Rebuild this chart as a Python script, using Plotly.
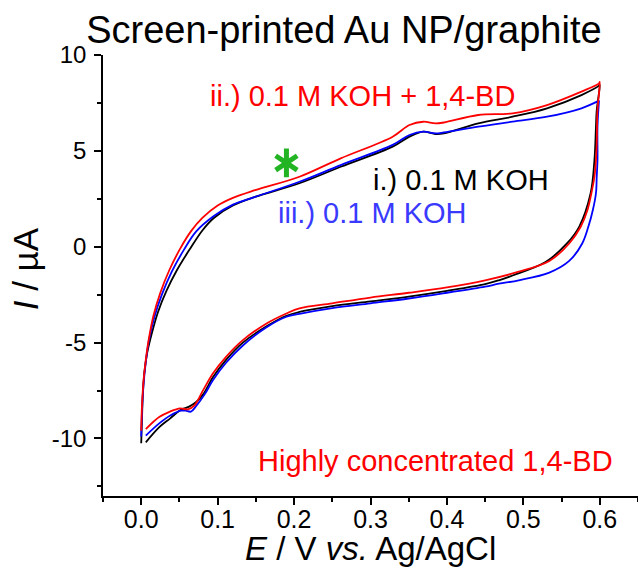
import plotly.graph_objects as go

# ---- data ----
# i.) 0.1 M KOH (black): anodic branch then cathodic branch
E_i = [0.000, 0.001, 0.002, 0.004, 0.008, 0.014, 0.022, 0.033, 0.047, 0.064, 0.080, 0.095, 0.120,
       0.149, 0.207, 0.261, 0.329, 0.351, 0.369, 0.385, 0.396, 0.441, 0.486, 0.531, 0.576, 0.599,
       0.600, 0.596, 0.595, 0.593, 0.588, 0.573, 0.557, 0.529, 0.486, 0.468,
       0.450, 0.400, 0.350, 0.300, 0.250, 0.207, 0.190, 0.164, 0.133, 0.111, 0.094, 0.081,
       0.072, 0.062, 0.052, 0.038, 0.024, 0.006]
I_i = [-10.25, -9.0, -7.8, -6.6, -5.5, -4.5, -3.4, -2.3, -1.2, -0.1, 0.85, 1.50, 2.15,
       2.60, 3.31, 4.17, 5.22, 5.74, 6.00, 5.88, 5.91, 6.43, 6.78, 7.22, 7.91, 8.40,
       8.45, 7.13, 6.26, 4.52, 2.79, 1.04, 0.17, -0.80, -1.50, -1.75,
       -1.95, -2.30, -2.60, -2.85, -3.10, -3.40, -3.60, -4.15, -5.00, -5.90, -6.80, -7.70,
       -8.10, -8.35, -8.50, -8.95, -9.40, -10.20]

# ii.) 0.1 M KOH + 1,4-BD (red)
E_ii = [0.000, 0.001, 0.003, 0.006, 0.010, 0.016, 0.025, 0.037, 0.051, 0.065, 0.080, 0.100, 0.120,
        0.149, 0.207, 0.261, 0.329, 0.351, 0.369, 0.385, 0.396, 0.441, 0.486, 0.531, 0.576, 0.599,
        0.600, 0.597, 0.596, 0.595, 0.593, 0.589, 0.584, 0.575, 0.560, 0.534, 0.494, 0.450,
        0.400, 0.350, 0.300, 0.250, 0.207, 0.190, 0.164, 0.133, 0.111, 0.094, 0.081,
        0.070, 0.061, 0.051, 0.037, 0.024, 0.006]
I_ii = [-9.60, -8.3, -7.0, -5.9, -4.8, -3.6, -2.4, -1.2, -0.1, 0.8, 1.5, 2.15, 2.55,
        2.95, 3.65, 4.61, 5.74, 6.35, 6.52, 6.43, 6.48, 6.87, 6.96, 7.39, 8.09, 8.52,
        8.60, 7.13, 5.39, 4.52, 3.65, 2.79, 1.93, 1.04, 0.17, -0.74, -1.30, -1.75,
        -2.12, -2.40, -2.65, -2.95, -3.21, -3.48, -4.00, -4.87, -5.74, -6.60, -7.48,
        -8.26, -8.48, -8.43, -8.61, -8.87, -9.51]

# iii.) 0.1 M KOH (blue)
E_iii = [0.000, 0.001, 0.003, 0.006, 0.010, 0.017, 0.027, 0.040, 0.056, 0.072, 0.095, 0.120,
         0.149, 0.207, 0.261, 0.329, 0.351, 0.369, 0.385, 0.396, 0.441, 0.486, 0.531, 0.576, 0.599,
         0.599, 0.597, 0.597, 0.596, 0.595, 0.591, 0.585, 0.577, 0.560, 0.534, 0.494, 0.468,
         0.450, 0.400, 0.350, 0.300, 0.250, 0.207, 0.190, 0.164, 0.133, 0.111, 0.094, 0.083,
         0.072, 0.065, 0.058, 0.052, 0.038, 0.024, 0.006]
I_iii = [-9.90, -8.6, -7.2, -6.0, -4.9, -3.7, -2.5, -1.3, -0.15, 0.8, 1.6, 2.2,
         2.60, 3.39, 4.26, 5.31, 5.83, 6.00, 5.91, 5.96, 6.26, 6.52, 6.78, 7.22, 7.62,
         7.62, 6.26, 4.52, 3.65, 2.79, 1.93, 1.04, 0.17, -0.74, -1.35, -1.75, -1.93,
         -2.08, -2.40, -2.70, -2.95, -3.20, -3.50, -3.65, -4.20, -5.15, -6.05, -6.95, -7.70,
         -8.30, -8.60, -8.55, -8.55, -8.80, -9.20, -9.85]

# green asterisk mark position
star_E = [0.190]
star_I = [4.37]

x_ticks = [0.0, 0.1, 0.2, 0.3, 0.4, 0.5, 0.6]
x_labels = ["0.0", "0.1", "0.2", "0.3", "0.4", "0.5", "0.6"]
y_ticks = [-10, -5, 0, 5, 10]
y_labels = ["-10", "-5", "0", "5", "10"]

FONT = "Liberation Sans, Arial, sans-serif"
GREEN = "#22B422"

fig = go.Figure()
fig.add_trace(go.Scatter(x=E_i, y=I_i, mode="lines", line=dict(color="#000000", width=1.8),
                         name="i.) 0.1 M KOH", line_shape="spline"))
fig.add_trace(go.Scatter(x=E_iii, y=I_iii, mode="lines", line=dict(color="#0000FF", width=1.8),
                         name="iii.) 0.1 M KOH", line_shape="spline"))
fig.add_trace(go.Scatter(x=E_ii, y=I_ii, mode="lines", line=dict(color="#FF0000", width=1.8),
                         name="ii.) 0.1 M KOH + 1,4-BD", line_shape="spline"))
# six-spoke asterisk = y-up + y-down line markers
for sym in ["y-up", "y-down"]:
    fig.add_trace(go.Scatter(x=star_E, y=star_I, mode="markers", hoverinfo="skip",
                             marker=dict(symbol=sym, size=18, color=GREEN,
                                         line=dict(color=GREEN, width=5))))

annotations = [
    dict(x=0.290, y=7.85, text="ii.) 0.1 M KOH + 1,4-BD", font=dict(color="#FF0000", size=29)),
    dict(x=0.418, y=3.50, text="i.) 0.1 M KOH", font=dict(color="#000000", size=29)),
    dict(x=0.302, y=1.78, text="iii.) 0.1 M KOH", font=dict(color="#3A3AFF", size=29)),
    dict(x=0.385, y=-11.15, text="Highly concentrated 1,4-BD", font=dict(color="#FF0000", size=29)),
]
for a in annotations:
    a.update(xref="x", yref="y", showarrow=False, xanchor="center", yanchor="middle")
    a["font"]["family"] = FONT

# axis titles
annotations.append(dict(xref="paper", yref="paper", x=0.5, y=-0.118, showarrow=False,
                        xanchor="center", yanchor="middle",
                        text="<i>E</i> / V <i>vs.</i> Ag/AgCl",
                        font=dict(family=FONT, size=33, color="black")))
annotations.append(dict(xref="paper", yref="paper", x=-0.145, y=0.515, showarrow=False,
                        xanchor="center", yanchor="middle", textangle=-90,
                        text="<i>I</i> / µA",
                        font=dict(family=FONT, size=35, color="black")))

fig.update_layout(
    width=638, height=570,
    margin=dict(l=103, r=0, t=55, b=74),
    paper_bgcolor="white", plot_bgcolor="white",
    showlegend=False,
    font=dict(family=FONT, color="black"),
    title=dict(text="Screen-printed Au NP/graphite", x=0.539, xref="container", xanchor="center",
               y=1 - 30 / 570, yref="container", yanchor="middle",
               font=dict(family=FONT, size=38, color="black")),
    annotations=annotations,
)
fig.update_xaxes(range=[-0.05, 0.65], showgrid=False, zeroline=False, showline=True,
                 linecolor="black", linewidth=1.5, mirror=False,
                 tickmode="array", tickvals=x_ticks, ticktext=x_labels,
                 ticks="outside", ticklen=7, tickwidth=1.5, tickcolor="black",
                 ticklabelstandoff=-7,
                 tickfont=dict(family=FONT, size=25, color="black"),
                 minor=dict(dtick=0.05, tick0=-0.05, ticks="outside", ticklen=4,
                            tickwidth=1.5, tickcolor="black"))
fig.update_yaxes(range=[-13, 10], showgrid=False, zeroline=False, showline=True,
                 linecolor="black", linewidth=1.5, mirror=False,
                 tickmode="array", tickvals=y_ticks, ticktext=y_labels,
                 ticks="outside", ticklen=7, tickwidth=1.5, tickcolor="black",
                 ticklabelstandoff=3,
                 tickfont=dict(family=FONT, size=24, color="black"),
                 minor=dict(dtick=2.5, tick0=-12.5, ticks="outside", ticklen=4,
                            tickwidth=1.5, tickcolor="black"))

fig.write_html("out.html")
